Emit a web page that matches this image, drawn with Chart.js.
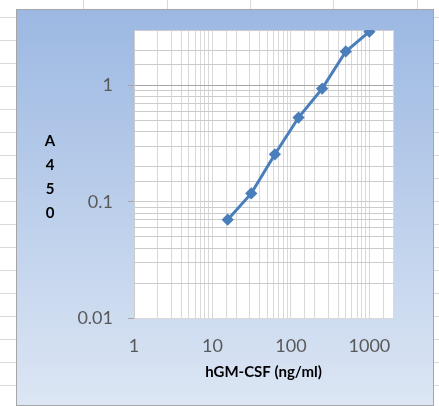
<!DOCTYPE html>
<html>
<head>
<meta charset="utf-8">
<script src="https://cdn.jsdelivr.net/npm/chart.js@4.4.0/dist/chart.umd.min.js"></script>
<style>
  html, body { margin: 0; padding: 0; }
  body {
    width: 439px; height: 406px; overflow: hidden; position: relative;
    background-color: #fff;
    background-image:
      repeating-linear-gradient(to bottom, transparent 0, transparent 22px, #dadada 22px, #dadada 23px),
      repeating-linear-gradient(to right, transparent 0, transparent 82.3px, #dadada 82.3px, #dadada 83.3px);
    background-position: 0 -5px, 1px 0;
  }
  #box {
    position: absolute; left: 16px; top: 9px; width: 418px; height: 397px;
    box-sizing: border-box; border: 1px solid #a6a6a6;
    background: linear-gradient(to bottom, #9cb8e2, #dce6f4);
  }
  #box canvas { display: block; }
</style>
</head>
<body>
<div id="box"><canvas id="elisa_chart" width="416" height="395"></canvas></div>
<script>
// standard curve, serial dilution
var conc = [15.625, 31.25, 62.5, 125, 250, 500, 1000];
var a450 = [0.070, 0.118, 0.256, 0.53, 0.94, 1.96, 2.90];
var xTitle = 'hGM-CSF (ng/ml)';
var yTitle = ['A', '4', '5', '0'];
var xMin = 1, xMax = 2000;
var yMin = 0.01, yMax = 3;

function isPow10(v) {
  var l = Math.log10(v);
  return Math.abs(l - Math.round(l)) < 1e-9;
}

// white plot area behind the grid
const plotBg = {
  id: 'plotBg',
  beforeDraw(chart) {
    const a = chart.chartArea;
    chart.ctx.save();
    chart.ctx.fillStyle = '#ffffff';
    chart.ctx.fillRect(a.left, a.top, a.right - a.left, a.bottom - a.top);
    chart.ctx.restore();
  }
};

// stacked letters title on the left
const stackedTitle = {
  id: 'stackedTitle',
  afterDraw(chart) {
    const ctx = chart.ctx;
    ctx.save();
    ctx.font = 'bold 15px Lato';
    ctx.fillStyle = '#000';
    ctx.textAlign = 'center';
    ctx.textBaseline = 'middle';
    yTitle.forEach(function(t, i) {
      ctx.fillText(t, 33, 131 + i * 24.2);
    });
    ctx.restore();
  }
};

const elisa_chart = document.querySelector('#elisa_chart').getContext('2d');

let chart1 = new Chart(elisa_chart, {
  type: 'line',
  data: {
    datasets: [{
      data: conc.map(function(c, i) { return {x: c, y: a450[i]}; }),
      borderColor: '#4a7ebb',
      backgroundColor: '#4a7ebb',
      borderWidth: 3,
      pointStyle: 'rectRot',
      pointRadius: 4,
      pointHoverRadius: 4,
      tension: 0,
    }]
  },
  options: {
    responsive: false,
    animation: false,
    events: [],
    layout: { padding: { top: 20, right: 40, left: 0, bottom: 0 } },
    plugins: {
      legend: { display: false },
      tooltip: { enabled: false },
    },
    scales: {
      x: {
        type: 'logarithmic',
        min: xMin,
        max: xMax,
        afterFit: function(s) { s.height = 87; s.paddingLeft = 0; s.paddingRight = 0; },
        grid: {
          color: '#d9d9d9',
          drawTicks: false,
        },
        border: { color: '#d9d9d9' },
        ticks: {
          autoSkip: false,
          maxRotation: 0,
          padding: 17,
          color: '#595959',
          font: { family: 'Lato', size: 18 },
          callback: function(v) { return isPow10(v) ? String(v) : ''; },
        },
        title: {
          display: true,
          text: xTitle,
          color: '#000',
          font: { family: 'Lato', size: 15, weight: 'bold' },
          padding: { top: 0, bottom: 24 },
        },
      },
      y: {
        type: 'logarithmic',
        min: yMin,
        max: yMax,
        afterFit: function(s) { s.width = 117; s.paddingTop = 0; s.paddingBottom = 0; },
        grid: {
          color: function(c) {
            return (c.tick && c.tick.value === 1) ? '#a6a6a6' : '#cccccc';
          },
          tickLength: 6,
          tickColor: function(c) {
            return (c.tick && isPow10(c.tick.value)) ? '#a6a6a6' : 'rgba(0,0,0,0)';
          },
        },
        border: { color: '#cccccc' },
        ticks: {
          autoSkip: false,
          padding: 15,
          color: '#595959',
          font: { family: 'Lato', size: 18 },
          callback: function(v) { return isPow10(v) ? String(v) : ''; },
        },
      },
    },
  },
  plugins: [plotBg, stackedTitle],
});
</script>
</body>
</html>
